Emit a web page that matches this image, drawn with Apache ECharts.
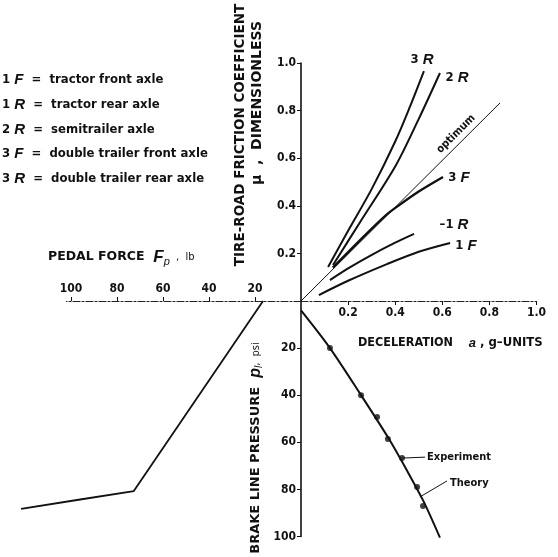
<!DOCTYPE html>
<html><head><meta charset="utf-8">
<script src="https://cdn.jsdelivr.net/npm/echarts@6/dist/echarts.min.js"></script>
<style>html,body{margin:0;padding:0;background:#fff}#c{width:558px;height:557px}</style>
</head><body><div id="c"></div>
<script>
// ---- data (Quadrant I: deceleration a [g] vs tire-road friction coefficient) ----
const decelTicks = [0.2, 0.4, 0.6, 0.8, 1.0];
const frictionTicks = [0.2, 0.4, 0.6, 0.8, 1.0];
const pressureTicks = [20, 40, 60, 80, 100];
const pedalTicks = [20, 40, 60, 80, 100];

const curve3R = [[0.115,0.143],[0.2,0.295],[0.3,0.47],[0.4,0.67],[0.46,0.81],[0.522,0.966]];
const curve2R = [[0.136,0.151],[0.25,0.33],[0.4,0.565],[0.5,0.765],[0.59,0.958]];
const curveOptimum = [[0,0],[0.845,0.832]];
const curve3F = [[0.135,0.14],[0.25,0.255],[0.36,0.36],[0.42,0.405],[0.5,0.46],[0.603,0.521]];
const curve1R = [[0.123,0.088],[0.2,0.137],[0.293,0.19],[0.4,0.245],[0.48,0.282]];
const curve1F = [[0.076,0.025],[0.2,0.085],[0.365,0.155],[0.5,0.207],[0.633,0.244]];

// ---- Quadrant IV: deceleration vs brake line pressure [psi] ----
const theory = [[0,4],[0.123,20],[0.255,40],[0.37,58],[0.45,72],[0.52,85],[0.59,100.5]];
const experiment = [[0.123,20],[0.255,40],[0.323,49.3],[0.369,58.6],[0.429,66.7],[0.493,79],[0.518,87]];
const leaderExperiment = [[0.429,66.7],[0.527,66.3]];
const leaderTheory = [[0.505,83.2],[0.62,76.4]];

// ---- Quadrant III: pedal force [lb] vs brake line pressure [psi] ----
const pedalCurve = [[16.5,0],[72.7,80.7],[97.4,84.5],[121.7,88.3]];

const legendRows = [
  ['1', 'F', 'tractor front axle'],
  ['1', 'R', 'tractor rear axle'],
  ['2', 'R', 'semitrailer axle'],
  ['3', 'F', 'double trailer front axle'],
  ['3', 'R', 'double trailer rear axle']
];

const FC = "'DejaVu Sans Condensed','Liberation Sans Narrow','DejaVu Sans',sans-serif";
const FS = "'DejaVu Sans','Liberation Sans',sans-serif";
const FI = "'Liberation Sans','DejaVu Sans',sans-serif";
const black = '#111';

const chart = echarts.init(document.getElementById('c'), null, {renderer:'canvas'});

const axisLabelStyle = {color: black, fontFamily: FC, fontWeight: 'bold', fontSize: 12};
const dashAxis = {show:true, lineStyle:{color:'#222', width:1.2, type:[7,2,2,2]}};
const solidAxis = {show:true, lineStyle:{color:black, width:1.6}};

function lineSeries(name, data, x, y, w, extra) {
  return Object.assign({
    name, type:'line', data, xAxisIndex:x, yAxisIndex:y, showSymbol:false, symbol:'none',
    smooth:0.3, clip:false, silent:true, animation:false,
    lineStyle:{color:black, width:w}
  }, extra || {});
}

const legendGraphics = legendRows.map((r, i) => ({
  type:'text', x:2, y:80 + i*24.7,
  style:{
    text:'{n|' + r[0] + ' }{i|' + r[1] + '}{t|  =  ' + r[2] + '}',
    verticalAlign:'middle',
    rich:{
      n:{fontFamily:FC, fontWeight:'bold', fontSize:13, fill:black},
      i:{fontFamily:FI, fontStyle:'italic', fontWeight:'bold', fontSize:15, fill:black},
      t:{fontFamily:FC, fontWeight:'bold', fontSize:13, fill:black}
    }
  }
}));

function curveLabel(x, y, num, letter, pre) {
  return {type:'text', x, y, style:{
    text:(pre||'') + '{n|' + num + ' }{i|' + letter + '}', align:'center', verticalAlign:'middle',
    font:'bold 13px ' + FC, fill:black,
    rich:{
      n:{fontFamily:FC, fontWeight:'bold', fontSize:13, fill:black},
      i:{fontFamily:FI, fontStyle:'italic', fontWeight:'bold', fontSize:15, fill:black}
    }
  }};
}

const option = {
  backgroundColor:'#fff',
  animation:false,
  grid:[
    {left:301, top:63, width:235.5, height:238, outerBoundsMode:'none'},
    {left:301, top:301, width:235.5, height:235.5, outerBoundsMode:'none'},
    {left:66.4, top:301, width:234.6, height:235.5, outerBoundsMode:'none'},
    {left:20.4, top:301, width:280.6, height:235.5, outerBoundsMode:'none'}
  ],
  xAxis:[
    {gridIndex:0, type:'value', min:0, max:1, interval:0.2, position:'bottom',
     axisLine:dashAxis, splitLine:{show:false},
     axisTick:{show:true, length:4, lineStyle:{color:black}},
     axisLabel:Object.assign({margin:6, showMinLabel:false,
       formatter:v => decelTicks.includes(+v.toFixed(1)) ? v.toFixed(1) : ''}, axisLabelStyle)},
    {gridIndex:1, type:'value', min:0, max:1, show:false},
    {gridIndex:2, type:'value', min:0, max:102, interval:20, inverse:true, position:'top',
     axisLine:dashAxis, splitLine:{show:false},
     axisTick:{show:true, length:4, lineStyle:{color:black}},
     axisLabel:Object.assign({margin:6, showMinLabel:false, showMaxLabel:false,
       formatter:v => pedalTicks.includes(v) ? String(v) : ''}, axisLabelStyle)},
    {gridIndex:3, type:'value', min:0, max:122, inverse:true, show:false}
  ],
  yAxis:[
    {gridIndex:0, type:'value', min:0, max:1, interval:0.2,
     axisLine:solidAxis, splitLine:{show:false},
     axisTick:{show:true, length:4, lineStyle:{color:black}},
     axisLabel:Object.assign({margin:5, showMinLabel:false,
       formatter:v => frictionTicks.includes(+v.toFixed(1)) ? v.toFixed(1) : ''}, axisLabelStyle)},
    {gridIndex:1, type:'value', min:0, max:100, interval:20, inverse:true,
     axisLine:solidAxis, splitLine:{show:false},
     axisTick:{show:true, length:4, lineStyle:{color:black}},
     axisLabel:Object.assign({margin:5, showMinLabel:false,
       formatter:v => pressureTicks.includes(v) ? String(v) : ''}, axisLabelStyle)},
    {gridIndex:2, type:'value', min:0, max:100, inverse:true, show:false},
    {gridIndex:3, type:'value', min:0, max:100, inverse:true, show:false}
  ],
  series:[
    lineSeries('3R', curve3R, 0, 0, 2),
    lineSeries('2R', curve2R, 0, 0, 2),
    lineSeries('optimum', curveOptimum, 0, 0, 1, {smooth:false}),
    lineSeries('3F', curve3F, 0, 0, 2.4),
    lineSeries('1R', curve1R, 0, 0, 2),
    lineSeries('1F', curve1F, 0, 0, 2),
    lineSeries('Theory', theory, 1, 1, 2),
    {name:'Experiment', type:'scatter', data:experiment, xAxisIndex:1, yAxisIndex:1,
     symbol:'circle', symbolSize:6, itemStyle:{color:black}, silent:true},
    lineSeries('leaderE', leaderExperiment, 1, 1, 1, {smooth:false}),
    lineSeries('leaderT', leaderTheory, 1, 1, 1, {smooth:false}),
    lineSeries('pedal', pedalCurve, 3, 3, 1.8, {smooth:false})
  ],
  graphic: legendGraphics.concat([
    curveLabel(422, 60, '3', 'R'),
    curveLabel(457, 78, '2', 'R'),
    curveLabel(459, 178, '3', 'F'),
    curveLabel(454, 225, '1', 'R', '–'),
    curveLabel(466, 246, '1', 'F'),
    {type:'text', x:456, y:134, rotation:Math.PI/4,
     style:{text:'optimum', align:'center', verticalAlign:'middle', font:'bold 11px ' + FC, fill:black}},
    {type:'text', x:427, y:457,
     style:{text:'Experiment', align:'left', verticalAlign:'middle', font:'bold 11px ' + FC, fill:black}},
    {type:'text', x:450, y:483,
     style:{text:'Theory', align:'left', verticalAlign:'middle', font:'bold 11px ' + FC, fill:black}},
    {type:'text', x:240, y:135, rotation:Math.PI/2,
     style:{text:'TIRE-ROAD FRICTION COEFFICIENT', align:'center', verticalAlign:'middle', font:'bold 13.5px ' + FS, fill:black}},
    {type:'text', x:257, y:103, rotation:Math.PI/2,
     style:{text:'μ  ,  DIMENSIONLESS', align:'center', verticalAlign:'middle', font:'bold 14px ' + FS, fill:black}},
    {type:'text', x:256, y:448, rotation:Math.PI/2,
     style:{text:'BRAKE LINE PRESSURE  {i|p}{s|l}{t|,  psi}', align:'center', verticalAlign:'middle', font:'bold 13px ' + FS, fill:black,
       rich:{i:{fontFamily:FI, fontStyle:'italic', fontWeight:'bold', fontSize:16, fill:black},
             s:{fontFamily:FI, fontStyle:'italic', fontSize:10, fill:black, padding:[7,0,0,0]},
             t:{fontFamily:FC, fontSize:11, fill:black}}}},
    {type:'text', x:48, y:257,
     style:{text:'PEDAL FORCE  {i|F}{s|p}{t|  ,  lb}', align:'left', verticalAlign:'middle', font:'bold 12.5px ' + FS, fill:black,
       rich:{i:{fontFamily:FI, fontStyle:'italic', fontWeight:'bold', fontSize:17, fill:black},
             s:{fontFamily:FI, fontStyle:'italic', fontSize:11, fill:black, padding:[9,0,0,0]},
             t:{fontFamily:FC, fontSize:11, fill:black}}}},
    {type:'text', x:358, y:343,
     style:{text:'DECELERATION    {i|a}{t| , g–UNITS}', align:'left', verticalAlign:'middle', font:'bold 12.5px ' + FC, fill:black,
       rich:{i:{fontFamily:FI, fontStyle:'italic', fontWeight:'bold', fontSize:13, fill:black},
             t:{fontFamily:FC, fontWeight:'bold', fontSize:13, fill:black}}}}
  ])
};
chart.setOption(option);
</script>
</body></html>
